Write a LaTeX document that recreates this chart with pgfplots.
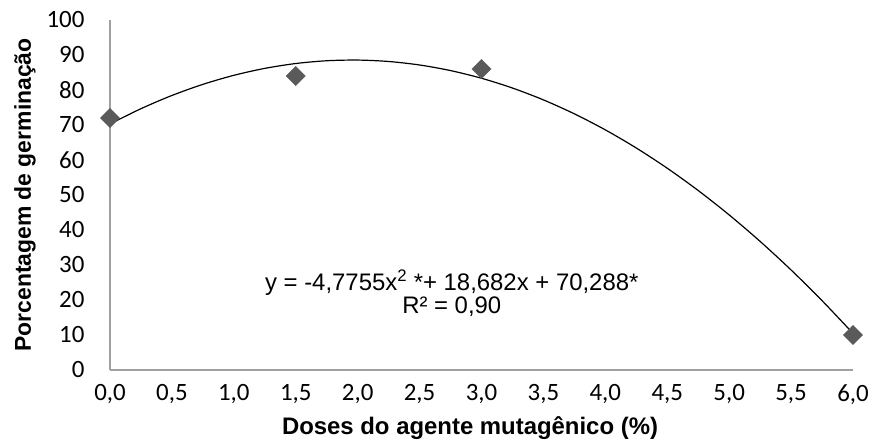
\documentclass[border=0pt]{standalone}
\usepackage{fontspec}
\setmainfont{Liberation Sans}
\newfontfamily\calfont{Carlito}
\usepackage{pgfplots}
\pgfplotsset{compat=1.18}
\definecolor{axgray}{HTML}{A0A0A0}
\definecolor{mk}{HTML}{5A5A5A}
\begin{document}
\begin{tikzpicture}
\path[use as bounding box] (-110bp,-75bp) rectangle (763bp,370bp);
\begin{axis}[
  at={(0,0)}, anchor=south west,
  scale only axis, width=743bp, height=350bp,
  xmin=0, xmax=6, ymin=0, ymax=100,
  axis x line*=bottom, axis y line*=left,
  axis line style={axgray, line width=1.2bp, -},
  xtick={0,0.5,...,6}, ytick={0,10,...,100},
  major tick length=0pt,
  tick label style={font=\calfont\fontsize{25}{25}\selectfont, text=black},
  /pgf/number format/assume math mode=true,
  xticklabel style={/pgf/number format/fixed, /pgf/number format/fixed zerofill, /pgf/number format/precision=1, /pgf/number format/use comma, yshift=-11bp},
  yticklabel style={xshift=-22bp},
  clip=false,
]
\addplot[black, line width=1.2bp, smooth] coordinates {
(0,70.288) (0.25,74.660) (0.5,78.435) (0.75,81.613) (1.0,84.195) (1.25,86.179)
(1.5,87.566) (1.75,88.357) (2.0,88.550) (2.25,88.147) (2.5,87.146) (2.75,85.549)
(3.0,83.355) (3.25,80.563) (3.5,77.175) (3.75,73.190) (4.0,68.608) (4.25,63.429)
(4.5,57.653) (4.75,51.280) (5.0,44.311) (5.25,36.744) (5.5,28.580) (5.75,19.819)
(6.0,10.462)};
\addplot[only marks, mark=square*, mark size=6.8bp, mark options={rotate=45, fill=mk, draw=mk}] coordinates {
(0,72) (1.5,84) (3,86) (6,10)};
\node[align=center, font=\fontsize{24}{23}\selectfont] at (axis cs:2.76,22) {y = -4,7755x\textsuperscript{2} *+ 18,682x + 70,288*\\R² = 0,90};
\end{axis}
\node[font=\bfseries\fontsize{24}{24}\selectfont] at (360bp,-58bp) {Doses do agente mutagênico (\%)};
\node[font=\bfseries\fontsize{23}{23}\selectfont, rotate=90] at (-85bp,175bp) {Porcentagem de germinação};
\end{tikzpicture}
\end{document}
